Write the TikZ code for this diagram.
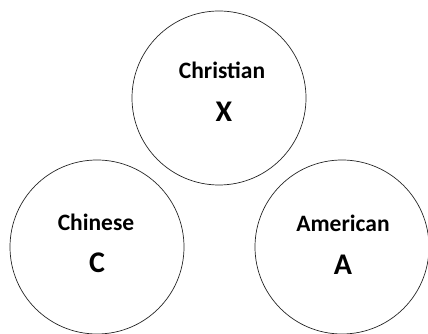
\documentclass[tikz,border=0pt]{standalone}
\usepackage{fontspec}
\setmainfont{Carlito}
\begin{document}
\begin{tikzpicture}[x=1pt,y=1pt,
  ring/.style={draw=black!85,line width=0.7pt,circle,minimum size=174pt,inner sep=0pt},
  lab/.style={font=\bfseries\fontsize{23.5}{25}\selectfont,inner sep=0pt},
  big/.style={font=\bfseries\fontsize{30}{32}\selectfont,inner sep=0pt}]
\useasboundingbox (0,0) rectangle (428,334);
\node[ring] (cx) at (219,236) {};
\node[ring] (cc) at (97,87) {};
\node[ring] (ca) at (342,87) {};
\node[lab] (tx) at (222,264) {Christian};
\node[big] (lx) at (224,222) {X};
\node[lab] (tc) at (96,112) {Chinese};
\node[big] (lc) at (97,71) {C};
\node[lab] (ta) at (343,111) {American};
\node[big] (la) at (343,69) {A};
\end{tikzpicture}
\end{document}
